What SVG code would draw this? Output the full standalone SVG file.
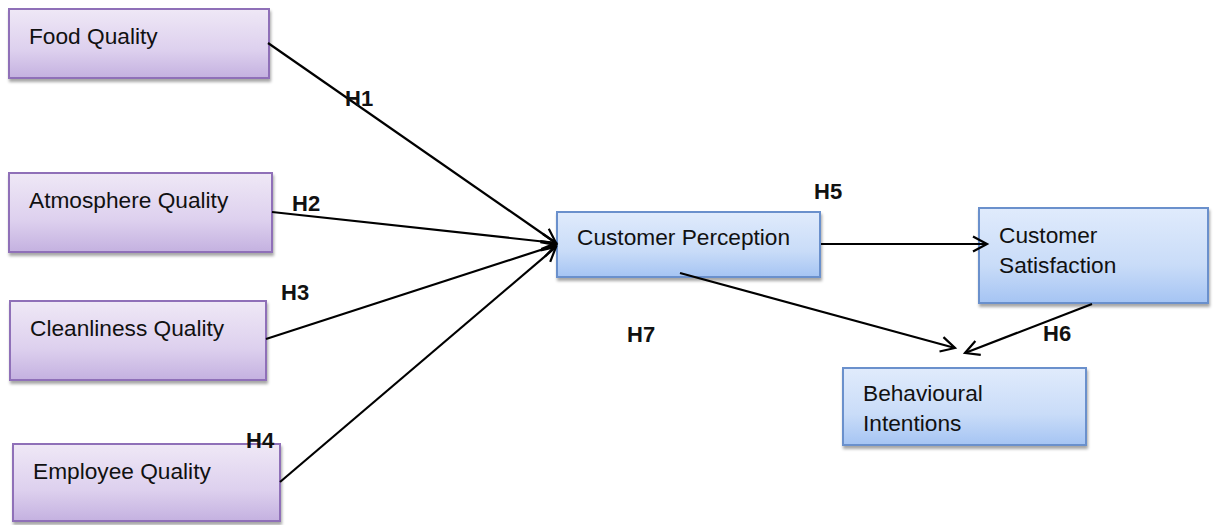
<svg xmlns="http://www.w3.org/2000/svg" width="1217" height="525" viewBox="0 0 1217 525">
<style>
.lbl{font-family:"Liberation Sans",Arial,sans-serif;font-size:22.7px;fill:#111}
.hyp{font-family:"Liberation Sans",Arial,sans-serif;font-size:22px;font-weight:bold;fill:#111}
.pbox{fill:url(#gp);stroke:#8f70b8;stroke-width:2;filter:url(#sh)}
.bbox{fill:url(#gb);stroke:#6b90cc;stroke-width:2;filter:url(#sh)}
.con{stroke:#000;stroke-width:2.2;fill:none;marker-end:url(#ah)}
</style>
<defs>
<linearGradient id="gp" x1="0" y1="0" x2="0" y2="1">
<stop offset="0" stop-color="#efe8f6"/>
<stop offset="0.6" stop-color="#ddd0ee"/>
<stop offset="1" stop-color="#c4b1e0"/>
</linearGradient>
<linearGradient id="gb" x1="0" y1="0" x2="0" y2="1">
<stop offset="0" stop-color="#e0ebfc"/>
<stop offset="0.6" stop-color="#c9dcf8"/>
<stop offset="1" stop-color="#a5c4f3"/>
</linearGradient>
<filter id="sh" x="-5%" y="-10%" width="115%" height="130%">
<feDropShadow dx="1" dy="3" stdDeviation="1.8" flood-color="#000" flood-opacity="0.35"/>
</filter>
<marker id="ah" markerUnits="userSpaceOnUse" markerWidth="20" markerHeight="20" refX="16" refY="10" orient="auto">
<path d="M2,2.5 L16,10 L2,17.5" fill="none" stroke="#000" stroke-width="2.2"/>
</marker>
</defs>
<rect width="1217" height="525" fill="#fff"/>
<g id="food-quality"><rect class="pbox" x="9" y="9" width="260" height="69"/><text class="lbl" x="29" y="44">Food Quality</text></g>
<g id="atmosphere-quality"><rect class="pbox" x="9" y="173" width="263" height="79"/><text class="lbl" x="29" y="208">Atmosphere Quality</text></g>
<g id="cleanliness-quality"><rect class="pbox" x="10" y="301" width="256" height="79"/><text class="lbl" x="30" y="336">Cleanliness Quality</text></g>
<g id="employee-quality"><rect class="pbox" x="13" y="444" width="267" height="77"/><text class="lbl" x="33" y="479">Employee Quality</text></g>
<g id="customer-perception"><rect class="bbox" x="557" y="212" width="263" height="65"/><text class="lbl" x="577" y="245">Customer Perception</text></g>
<g id="customer-satisfaction"><rect class="bbox" x="979" y="208" width="229" height="95"/><text class="lbl" x="999" y="243">Customer</text><text class="lbl" x="999" y="273">Satisfaction</text></g>
<g id="behavioural-intentions"><rect class="bbox" x="843" y="368" width="243" height="77"/><text class="lbl" x="863" y="401">Behavioural</text><text class="lbl" x="863" y="431">Intentions</text></g>
<g id="connectors">
<line class="con" x1="268" y1="43" x2="556" y2="243"/>
<line class="con" x1="272" y1="212" x2="556" y2="243"/>
<line class="con" x1="266" y1="339" x2="556" y2="245"/>
<line class="con" x1="280" y1="482" x2="556" y2="247"/>
<line class="con" x1="821" y1="244" x2="987" y2="244"/>
<line class="con" x1="680" y1="273" x2="955" y2="348"/>
<line class="con" x1="1092" y1="304" x2="965" y2="353"/>
</g>
<g id="labels">
<text class="hyp" x="345" y="106">H1</text>
<text class="hyp" x="292" y="211">H2</text>
<text class="hyp" x="281" y="300">H3</text>
<text class="hyp" x="246" y="448">H4</text>
<text class="hyp" x="814" y="199">H5</text>
<text class="hyp" x="1043" y="341">H6</text>
<text class="hyp" x="627" y="342">H7</text>
</g>
</svg>
